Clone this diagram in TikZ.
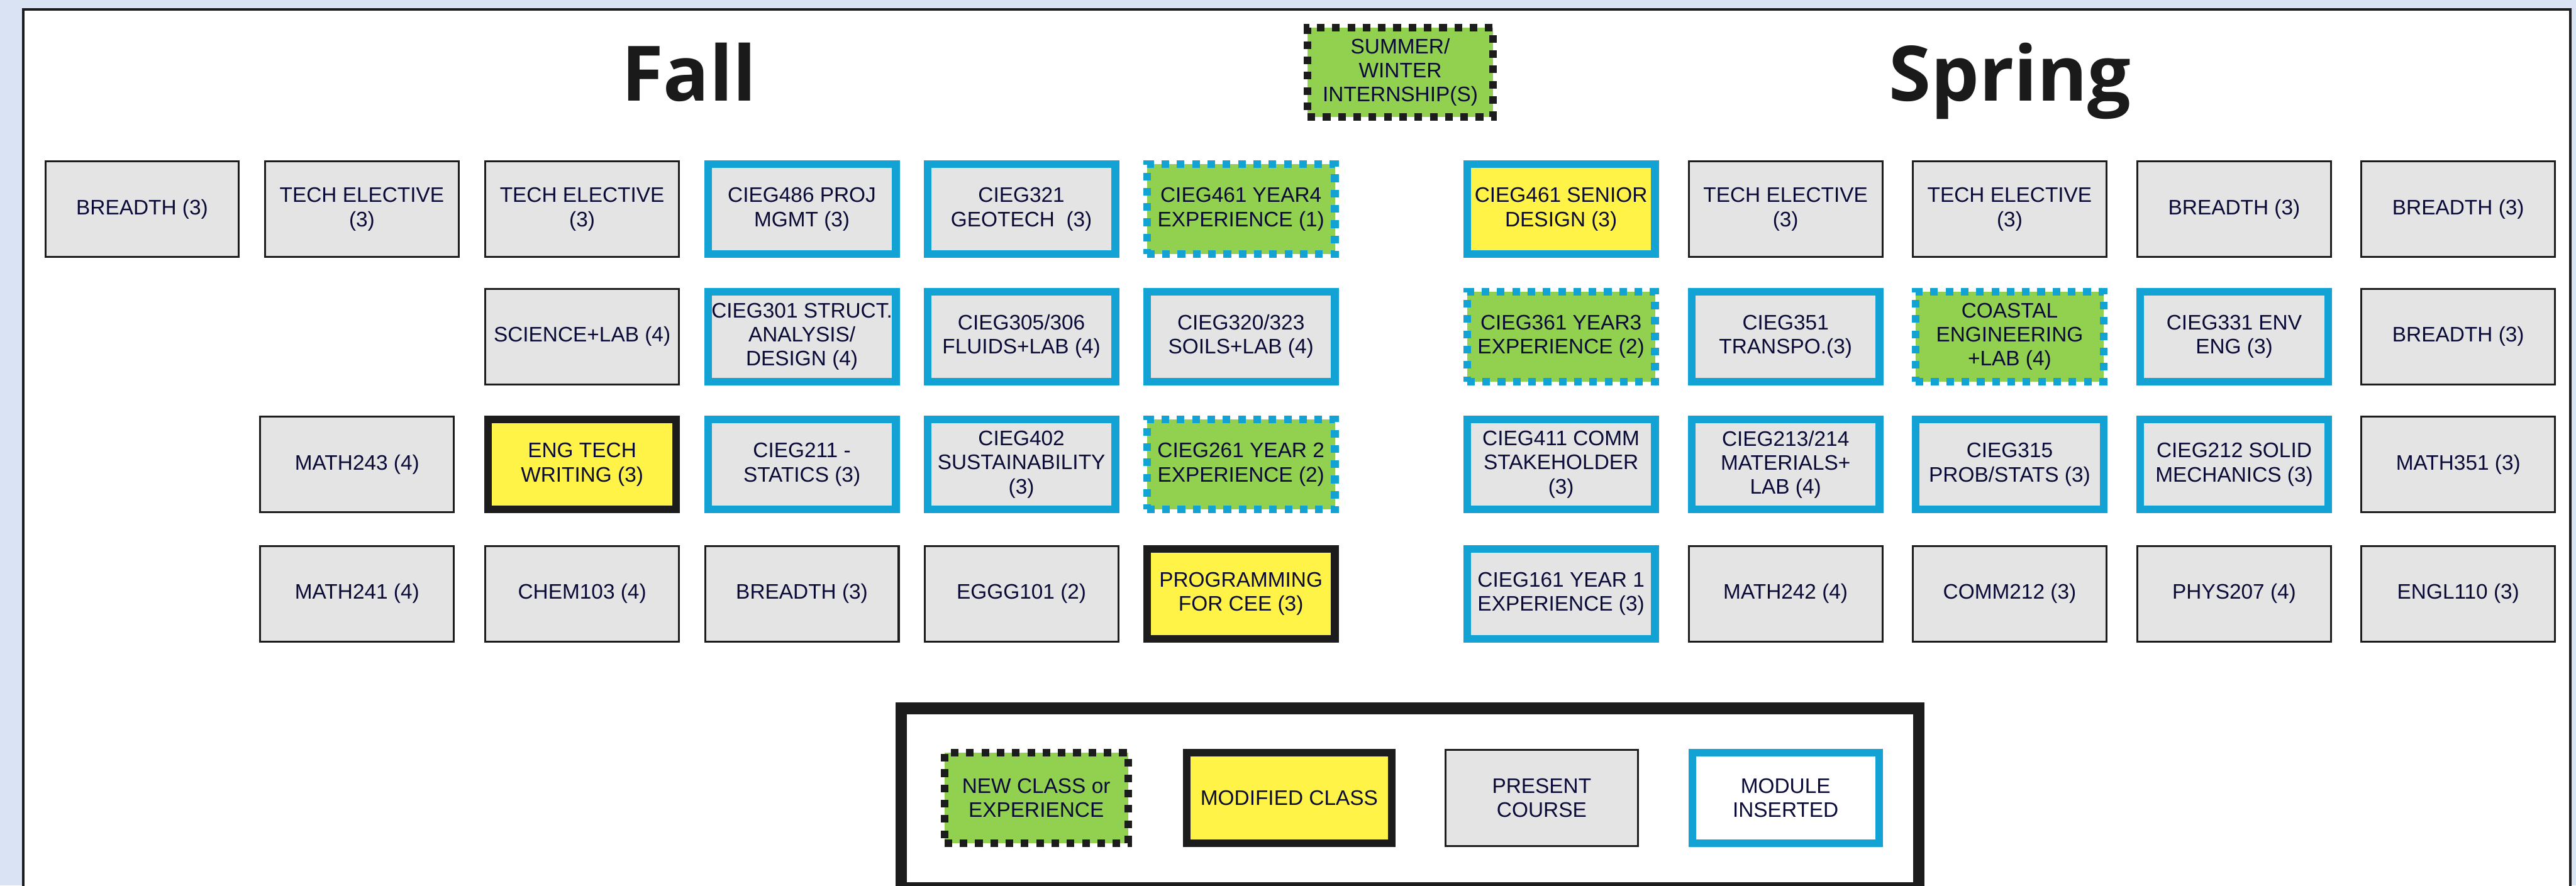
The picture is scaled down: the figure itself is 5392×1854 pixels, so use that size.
\documentclass[tikz,border=0pt]{standalone}
\usepackage{fontspec}
\setmainfont{Liberation Sans}
\newfontfamily\titlefont{Open Sans}
\definecolor{bgblue}{HTML}{DAE3F3}
\definecolor{grayfill}{HTML}{E4E4E4}
\definecolor{darkline}{HTML}{1C1C1C}
\definecolor{modblue}{RGB}{18,163,212}
\definecolor{grn}{HTML}{92D050}
\definecolor{yel}{RGB}{255,243,72}
\definecolor{navy}{RGB}{10,10,55}
\definecolor{titleblack}{HTML}{1A1A1A}
\tikzset{
  crs/.style={font=\fontsize{12.5}{14.3}\selectfont, text=navy, align=center, inner sep=0pt, outer sep=0pt},
  graybox/.style={crs, fill=grayfill, draw=darkline, line width=1.14pt, minimum width=4.05cm, minimum height=2.0cm},
  modbox/.style={crs, fill=grayfill, draw=modblue, line width=4.55pt, minimum width=3.93cm, minimum height=1.88cm},
  modifiedbox/.style={crs, fill=yel, draw=darkline, line width=4.55pt, minimum width=3.93cm, minimum height=1.88cm},
  newbox/.style={crs, fill=grn, draw=modblue, line width=4.55pt, dash pattern=on 4.55pt off 4.55pt, minimum width=3.93cm, minimum height=1.88cm},
  seniorbox/.style={modifiedbox, draw=modblue},
  titletext/.style={font=\titlefont\bfseries\fontsize{45.5}{50}\selectfont, text=titleblack, anchor=base, inner sep=0pt}
}
\begin{document}
\begin{tikzpicture}[x=0.01cm,y=-0.01cm]
\useasboundingbox (0,0) rectangle (5392,1854);
\clip (0,0) rectangle (5392,1854);
\fill[bgblue] (0,0) rectangle (5392,1854);
% white panel
\draw[darkline, line width=1.7pt, fill=white] (49,20) rectangle (5380,1900);

% titles
\node[titletext] (fall) at (1442,211) {Fall};
\node[titletext] (spring) at (4207,211) {Spring};
\node[newbox, draw=darkline, minimum width=3.88cm, minimum height=1.87cm] (summer) at (2931,151.5) {SUMMER/\\WINTER\\INTERNSHIP(S)};

% ---------- Fall ----------
% row 1
\node[graybox] (f11) at (297.5,438) {BREADTH (3)};
\node[graybox] (f12) at (757.5,438) {TECH ELECTIVE\\(3)};
\node[graybox] (f13) at (1218.5,438) {TECH ELECTIVE\\(3)};
\node[modbox] (f14) at (1678.5,438) {CIEG486 PROJ\\MGMT (3)};
\node[modbox] (f15) at (2138,438) {CIEG321\\GEOTECH\ \ (3)};
\node[newbox] (f16) at (2597.5,438) {CIEG461 YEAR4\\EXPERIENCE (1)};
% row 2
\node[graybox] (f23) at (1218.5,704.5) {SCIENCE+LAB (4)};
\node[modbox] (f24) at (1678.5,704.5) {CIEG301 STRUCT.\\ANALYSIS/\\DESIGN (4)};
\node[modbox] (f25) at (2138,704.5) {CIEG305/306\\FLUIDS+LAB (4)};
\node[modbox] (f26) at (2597.5,704.5) {CIEG320/323\\SOILS+LAB (4)};
% row 3
\node[graybox] (f32) at (747.5,972.5) {MATH243 (4)};
\node[modifiedbox] (f33) at (1218.5,972.5) {ENG TECH\\WRITING (3)};
\node[modbox] (f34) at (1678.5,972.5) {CIEG211 -\\STATICS (3)};
\node[modbox] (f35) at (2138,972.5) {CIEG402\\SUSTAINABILITY\\(3)};
\node[newbox] (f36) at (2597.5,972.5) {CIEG261 YEAR 2\\EXPERIENCE (2)};
% row 4
\node[graybox] (f42) at (747.5,1243) {MATH241 (4)};
\node[graybox] (f43) at (1218.5,1243) {CHEM103 (4)};
\node[graybox] (f44) at (1678.5,1243) {BREADTH (3)};
\node[graybox] (f45) at (2138,1243) {EGGG101 (2)};
\node[modifiedbox] (f46) at (2597.5,1243) {PROGRAMMING\\FOR CEE (3)};

% ---------- Spring ----------
% row 1
\node[seniorbox] (s11) at (3267.5,438) {CIEG461 SENIOR\\DESIGN (3)};
\node[graybox] (s12) at (3737.5,438) {TECH ELECTIVE\\(3)};
\node[graybox] (s13) at (4206.5,438) {TECH ELECTIVE\\(3)};
\node[graybox] (s14) at (4676.5,438) {BREADTH (3)};
\node[graybox] (s15) at (5145.5,438) {BREADTH (3)};
% row 2
\node[newbox] (s21) at (3267.5,704.5) {CIEG361 YEAR3\\EXPERIENCE (2)};
\node[modbox] (s22) at (3737.5,704.5) {CIEG351\\TRANSPO.(3)};
\node[newbox] (s23) at (4206.5,704.5) {COASTAL\\ENGINEERING\\+LAB (4)};
\node[modbox] (s24) at (4676.5,704.5) {CIEG331 ENV\\ENG (3)};
\node[graybox] (s25) at (5145.5,704.5) {BREADTH (3)};
% row 3
\node[modbox] (s31) at (3267.5,972.5) {CIEG411 COMM\\STAKEHOLDER\\(3)};
\node[modbox] (s32) at (3737.5,972.5) {CIEG213/214\\MATERIALS+\\LAB (4)};
\node[modbox] (s33) at (4206.5,972.5) {CIEG315\\PROB/STATS (3)};
\node[modbox] (s34) at (4676.5,972.5) {CIEG212 SOLID\\MECHANICS (3)};
\node[graybox] (s35) at (5145.5,972.5) {MATH351 (3)};
% row 4
\node[modbox] (s41) at (3267.5,1243) {CIEG161 YEAR 1\\EXPERIENCE (3)};
\node[graybox] (s42) at (3737.5,1243) {MATH242 (4)};
\node[graybox] (s43) at (4206.5,1243) {COMM212 (3)};
\node[graybox] (s44) at (4676.5,1243) {PHYS207 (4)};
\node[graybox] (s45) at (5145.5,1243) {ENGL110 (3)};

% ---------- Legend ----------
\node[draw=darkline, fill=white, line width=6.83pt, minimum width=21.29cm, minimum height=3.76cm, inner sep=0pt] (legend) at (2951.5,1671) {};
\node[newbox, draw=darkline, minimum width=3.84cm, minimum height=1.89cm] (lnew) at (2169,1670.5) {NEW CLASS or\\EXPERIENCE};
\node[modifiedbox, minimum width=4.29cm, minimum height=1.89cm] (lmod) at (2698.5,1670.5) {MODIFIED CLASS};
\node[graybox, minimum width=4.02cm, minimum height=2.01cm] (lpres) at (3227,1670.5) {PRESENT\\COURSE};
\node[modbox, fill=white, minimum width=3.91cm, minimum height=1.89cm] (lmodule) at (3737.5,1670.5) {MODULE\\INSERTED};
\end{tikzpicture}
\end{document}
